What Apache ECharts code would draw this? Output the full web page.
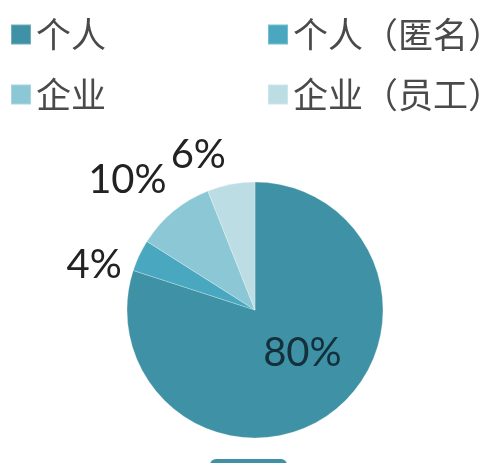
<!DOCTYPE html>
<html><head><meta charset="utf-8">
<script src="https://cdn.jsdelivr.net/npm/echarts@6/dist/echarts.min.js"></script>
<style>html,body{margin:0;padding:0;background:#fff}#c{width:495px;height:463px}</style>
</head><body><div id="c"></div>
<script>
const categories = ['个人', '个人（匿名）', '企业', '企业（员工）'];
const values = [80, 4, 10, 6];
const labels = ['80%', '4%', '10%', '6%'];
const colors = ['#3f92a5', '#49a8bf', '#8cc7d6', '#bddde5'];

const chart = echarts.init(document.getElementById('c'));
const legendText = {fontFamily: 'Noto Sans CJK SC', fontSize: 35, color: '#4a4a4a', lineHeight: 20};
const labelOffsets = [[8, -11], [-7, 12], [2, -27], [1, -23]];
chart.setOption({
  animation: false,
  color: colors,
  legend: [
    {data: [categories[0], categories[2]], orient: 'vertical', left: 10, top: 17, padding: 0, itemWidth: 20, itemHeight: 20, itemGap: 25, icon: 'rect', textStyle: legendText},
    {data: [categories[1], categories[3]], orient: 'vertical', left: 267, top: 17, padding: 0, itemWidth: 20, itemHeight: 20, itemGap: 25, icon: 'rect', textStyle: legendText}
  ],
  graphic: [{type: 'rect', left: 210, top: 459, shape: {width: 77, height: 12, r: 6}, style: {fill: '#3f92a5'}}],
  series: [{
    type: 'pie',
    center: [255, 310],
    radius: 128,
    startAngle: 90,
    clockwise: true,
    avoidLabelOverlap: false,
    itemStyle: {borderColor: 'rgba(255,255,255,0.25)', borderWidth: 1},
    labelLine: {show: false, length: 6, length2: 0},
    label: {
      position: 'outside',
      fontFamily: 'Lato',
      fontSize: 40,
      color: '#222',
      formatter: p => labels[p.dataIndex]
    },
    data: categories.map((c, i) => {
      const d = {name: c, value: values[i], label: {offset: labelOffsets[i]}};
      if (i === 0) d.label = {position: 'inside', color: '#13303c', offset: labelOffsets[i]};
      return d;
    })
  }]
});
</script></body></html>
